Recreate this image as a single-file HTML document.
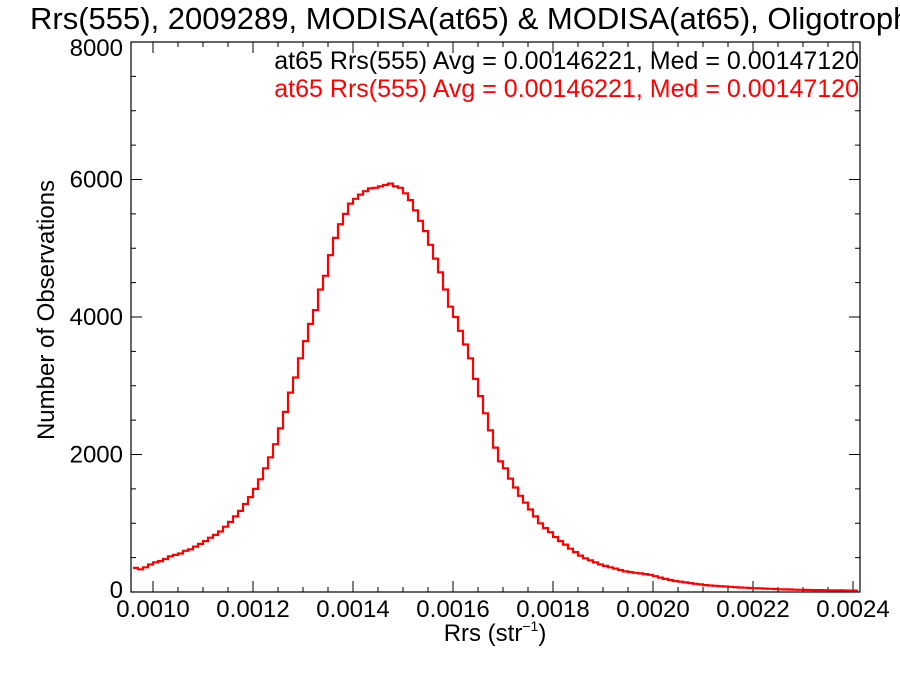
<!DOCTYPE html>
<html><head><meta charset="utf-8"><style>
body{margin:0;background:#fff}
svg text{font-family:"Liberation Sans",Arial,sans-serif}
</style></head><body>
<svg width="900" height="675" viewBox="0 0 900 675">
<text x="30" y="29" font-size="31" fill="#000">Rrs(555), 2009289, MODISA(at65) &amp; MODISA(at65), Oligotrophic</text>
<g id="axes"></g>
<path id="hist" fill="none" stroke="#ff0000" stroke-width="2.2"></path>
<text x="859" y="69" font-size="25" text-anchor="end" fill="#000">at65 Rrs(555) Avg = 0.00146221, Med = 0.00147120</text>
<text x="859" y="97" font-size="25" text-anchor="end" fill="#ff0000">at65 Rrs(555) Avg = 0.00146221, Med = 0.00147120</text>
<text x="495" y="641" font-size="24" text-anchor="middle">Rrs (str<tspan font-size="14" dy="-10">−1</tspan><tspan dy="10">)</tspan></text>
<text transform="translate(46,310) rotate(-90)" font-size="24" text-anchor="middle" dy="8">Number of Observations</text>
</svg>
<script>
const binStart = 0.00096;
const binWidth = 0.00001;
const counts = [350,330,360,400,
430,450,480,520,540,560,600,620,660,700,
740,790,830,880,950,1020,1100,1180,1280,1380,
1500,1640,1800,1960,2150,2380,2620,2900,3120,3400,
3650,3900,4100,4400,4600,4900,5150,5350,5500,5650,
5720,5780,5830,5870,5880,5900,5920,5940,5900,5880,
5800,5700,5550,5400,5250,5050,4850,4650,4400,4150,
4000,3800,3600,3400,3100,2850,2600,2350,2100,1900,
1800,1650,1520,1400,1300,1200,1100,1000,930,870,
800,740,690,630,580,530,490,460,430,400,
380,360,340,320,300,290,280,270,260,250,
230,210,190,175,160,150,140,130,120,110,
100,95,90,85,80,75,70,66,62,58,
55,52,49,46,43,40,38,36,34,32,
30,29,28,27,26,25,24,23,22,21,20];
const xTicks = [0.0010,0.0012,0.0014,0.0016,0.0018,0.0020,0.0022,0.0024];
const xTickLabels = ["0.0010","0.0012","0.0014","0.0016","0.0018","0.0020","0.0022","0.0024"];
const yTicks = [0,2000,4000,6000,8000];
const yTickLabels = ["0","2000","4000","6000","8000"];

const L=131,R=860,T=42,B=592;
const xMin=0.000956,xMax=0.002414,yMin=0,yMax=8000;
const X=v=>L+(v-xMin)/(xMax-xMin)*(R-L);
const Y=v=>B-(v-yMin)/(yMax-yMin)*(B-T);
const NS="http://www.w3.org/2000/svg";
const axes=document.getElementById('axes');
function mk(tag,attrs){const e=document.createElementNS(NS,tag);for(const k in attrs)e.setAttribute(k,attrs[k]);axes.appendChild(e);return e;}
const frame=mk('rect',{x:L,y:T,width:R-L,height:B-T,fill:'none',stroke:'#000','stroke-width':1.2});


for(let v=0.00095;v<=xMax+1e-9;v+=0.00005){if(v<xMin)continue;const x=X(v);const major=xTicks.some(t=>Math.abs(t-v)<1e-8);const len=major?11:5;
 const t1=mk('line',{x1:x,x2:x,y1:B,y2:B-len,stroke:'#000','stroke-width':1});
 
 
 const t2=mk('line',{x1:x,x2:x,y1:T,y2:T+len,stroke:'#000','stroke-width':1});
 
 }
xTicks.forEach((v,i)=>{const t=mk('text',{x:X(v),y:617,'font-size':24,'text-anchor':'middle'});t.textContent=xTickLabels[i];
 
 });
for(let v=0;v<=yMax;v+=500){const y=Y(v);const major=v%2000===0;const len=major?11:5;
 const t1=mk('line',{x1:L,x2:L+len,y1:y,y2:y,stroke:'#000','stroke-width':1});
 
 
 const t2=mk('line',{x1:R,x2:R-len,y1:y,y2:y,stroke:'#000','stroke-width':1});
 
 }
yTicks.forEach((v,i)=>{let y=Y(v)+8;if(v===0)y-=2;if(v===yMax)y+=6;const t=mk('text',{x:123,y:y,'font-size':24,'text-anchor':'end'});t.textContent=yTickLabels[i];
 
 });
let d='';
counts.forEach((c,i)=>{const x0=Math.max(L,X(binStart+i*binWidth)),x1=Math.min(R,X(binStart+(i+1)*binWidth));const y=Y(c);
 d+=(i===0?'M':'L')+x0.toFixed(1)+','+y.toFixed(1)+'L'+x1.toFixed(1)+','+y.toFixed(1);});
document.getElementById('hist').setAttribute('d',d);
</script>
</body></html>
